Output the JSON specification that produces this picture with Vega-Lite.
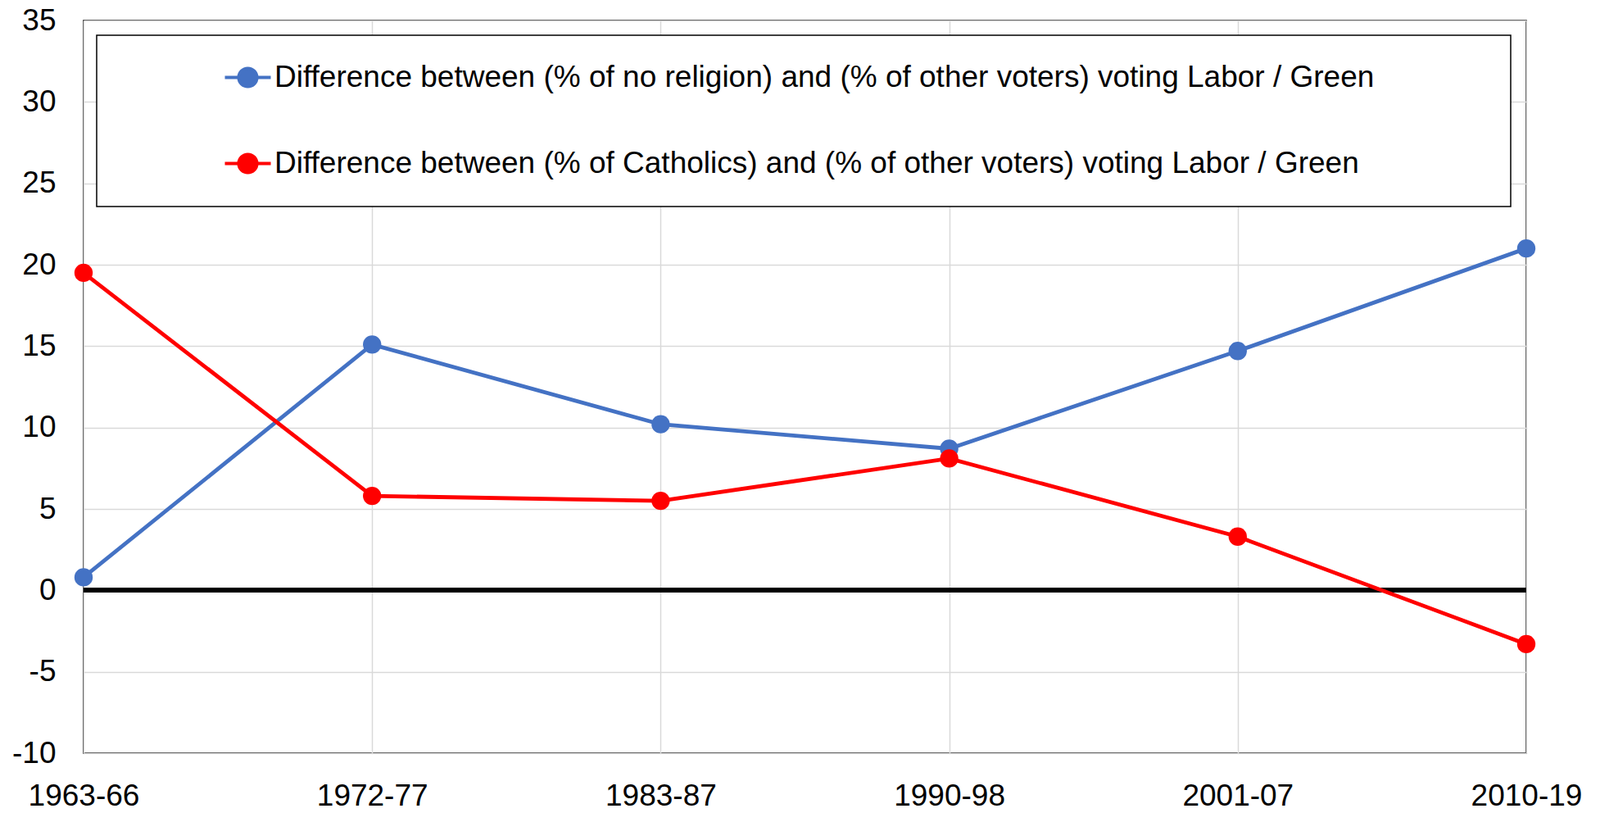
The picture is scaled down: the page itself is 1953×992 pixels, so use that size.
{
  "$schema": "https://vega.github.io/schema/vega-lite/v6.json",
  "width": 1761,
  "height": 894,
  "autosize": {"type": "none"},
  "padding": {"left": 102, "top": 25, "right": 90, "bottom": 73},
  "background": "white",
  "config": {
    "font": "Liberation Sans",
    "view": {"stroke": "black", "strokeWidth": 1.5},
    "axis": {"labelFont": "Liberation Sans", "labelFontSize": 37, "labelColor": "black", "gridColor": "#D9D9D9", "gridWidth": 1.5, "domain": false, "ticks": false, "title": null}
  },
  "data": {
    "values": [
      {"period": "1963-66", "series": "Difference between (% of no religion) and (% of other voters) voting Labor / Green", "value": 0.8},
      {"period": "1972-77", "series": "Difference between (% of no religion) and (% of other voters) voting Labor / Green", "value": 15.1},
      {"period": "1983-87", "series": "Difference between (% of no religion) and (% of other voters) voting Labor / Green", "value": 10.2},
      {"period": "1990-98", "series": "Difference between (% of no religion) and (% of other voters) voting Labor / Green", "value": 8.7},
      {"period": "2001-07", "series": "Difference between (% of no religion) and (% of other voters) voting Labor / Green", "value": 14.7},
      {"period": "2010-19", "series": "Difference between (% of no religion) and (% of other voters) voting Labor / Green", "value": 21.0},
      {"period": "1963-66", "series": "Difference between (% of Catholics) and (% of other voters) voting Labor / Green", "value": 19.5},
      {"period": "1972-77", "series": "Difference between (% of Catholics) and (% of other voters) voting Labor / Green", "value": 5.8},
      {"period": "1983-87", "series": "Difference between (% of Catholics) and (% of other voters) voting Labor / Green", "value": 5.5},
      {"period": "1990-98", "series": "Difference between (% of Catholics) and (% of other voters) voting Labor / Green", "value": 8.1},
      {"period": "2001-07", "series": "Difference between (% of Catholics) and (% of other voters) voting Labor / Green", "value": 3.3},
      {"period": "2010-19", "series": "Difference between (% of Catholics) and (% of other voters) voting Labor / Green", "value": -3.3}
    ]
  },
  "layer": [
    {
      "mark": {"type": "rule", "color": "black", "strokeWidth": 5},
      "encoding": {
        "y": {"datum": 0, "type": "quantitative", "scale": {"domain": [-10, 35], "nice": false, "zero": false}}
      }
    },
    {
      "mark": {"type": "line", "strokeWidth": 4.8},
      "encoding": {
        "x": {"field": "period", "type": "ordinal", "sort": null, "scale": {"type": "point", "padding": 0},
              "axis": {"grid": true, "labelAngle": 0, "labelPadding": 34, "labelBaseline": "top"}},
        "y": {"field": "value", "type": "quantitative", "scale": {"domain": [-10, 35], "nice": false, "zero": false},
              "axis": {"values": [-10, -5, 0, 5, 10, 15, 20, 25, 30, 35], "grid": true, "labelPadding": 34, "labelExpr": "'' + datum.value"}},
        "color": {
          "field": "series", "type": "nominal",
          "scale": {"domain": ["Difference between (% of no religion) and (% of other voters) voting Labor / Green", "Difference between (% of Catholics) and (% of other voters) voting Labor / Green"], "range": ["#4472C4", "#FF0000"]},
          "legend": {
            "orient": "none", "legendX": 16, "legendY": 18, "direction": "vertical", "title": null,
            "padding": 33, "strokeColor": "black", "fillColor": "white",
            "labelFont": "Liberation Sans", "labelFontSize": 37, "labelColor": "black", "labelLimit": 3000,
            "rowPadding": 66, "symbolOffset": 133, "labelOffset": 14,
            "symbolType": "M-2,0L2,0M-0.79,0A0.79,0.79,0,1,1,0.79,0A0.79,0.79,0,1,1,-0.79,0Z",
            "symbolSize": 784, "symbolStrokeWidth": 4,
            "labelExpr": "datum.label + '             \u200b'",
            "encode": {
              "symbols": {"update": {"fill": {"scale": "color", "field": "value"}, "stroke": {"scale": "color", "field": "value"}, "opacity": {"value": 1}, "strokeWidth": {"value": 4}}},
              "legend": {"update": {"strokeWidth": {"value": 1.5}}}
            }
          }
        }
      }
    },
    {
      "mark": {"type": "point", "filled": true, "size": 500, "opacity": 1},
      "encoding": {
        "x": {"field": "period", "type": "ordinal", "sort": null},
        "y": {"field": "value", "type": "quantitative"},
        "color": {"field": "series", "type": "nominal"}
      }
    }
  ]
}
